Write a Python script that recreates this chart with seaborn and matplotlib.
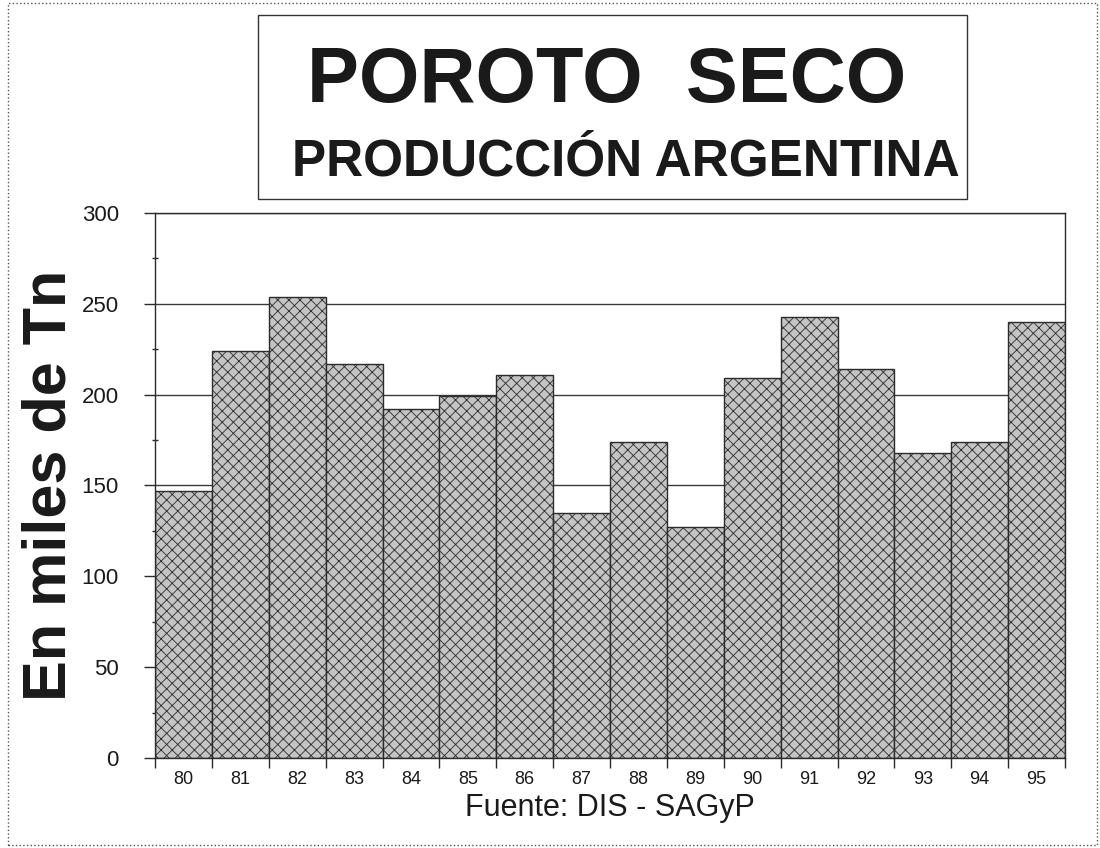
import matplotlib
matplotlib.use("Agg")
import matplotlib.pyplot as plt
import numpy as np
import pandas as pd
import seaborn as sns
from matplotlib.patches import Rectangle
from matplotlib.ticker import MultipleLocator, FixedLocator, NullFormatter

# Producción anual de poroto seco (miles de toneladas)
years = ["80", "81", "82", "83", "84", "85", "86", "87",
         "88", "89", "90", "91", "92", "93", "94", "95"]
production = [147, 224, 254, 217, 192, 199, 211, 135,
              174, 127, 209, 243, 214, 168, 174, 240]

y_ticks = [0, 50, 100, 150, 200, 250, 300]

title_main = "POROTO  SECO"
title_sub = "PRODUCCIÓN ARGENTINA"
y_label = "En miles de Tn"
x_label = "Fuente: DIS - SAGyP"

sns.set_theme(style="white")
plt.rcParams["font.family"] = ["Liberation Sans", "DejaVu Sans"]
plt.rcParams["hatch.linewidth"] = 0.6

W, H = 1100, 848
fig = plt.figure(figsize=(W / 100, H / 100), dpi=100)
fig.patch.set_facecolor("white")

# plot area in pixel coordinates
left, right, top, bottom = 155, 1065, 213, 758
ax = fig.add_axes([left / W, 1 - bottom / H, (right - left) / W, (bottom - top) / H])

df = pd.DataFrame({"year": years, "production": production})
sns.barplot(data=df, x="year", y="production", color="#c4c4c4", saturation=1,
            width=1.0, edgecolor="#2b2b2b", linewidth=1.0, ax=ax, zorder=2)
for p in ax.patches:
    p.set_hatch("xxx")

ax.set_xlim(-0.5, len(years) - 0.5)
ax.set_ylim(0, 300)

# grid and frame
ax.set_axisbelow(True)
ax.yaxis.grid(True, color="#3a3a3a", linewidth=1.0, zorder=0)
ax.xaxis.grid(False)
for s in ax.spines.values():
    s.set_visible(True)
    s.set_color("#2b2b2b")
    s.set_linewidth(1.0)

# y axis ticks
ax.yaxis.set_major_locator(FixedLocator(y_ticks))
ax.yaxis.set_minor_locator(MultipleLocator(25))
ax.tick_params(axis="y", which="major", left=True, direction="out", length=8,
               width=1, color="#2b2b2b", labelsize=16, pad=18, labelcolor="#1a1a1a")
ax.tick_params(axis="y", which="minor", left=True, direction="inout", length=5,
               width=1, color="#2b2b2b")

# x axis: labels centred on bars, tick marks on bar boundaries
ax.tick_params(axis="x", which="major", bottom=True, length=0, labelsize=13,
               pad=9, labelcolor="#1a1a1a")
ax.xaxis.set_minor_locator(FixedLocator(np.arange(-0.5, len(years), 1.0)))
ax.xaxis.set_minor_formatter(NullFormatter())
ax.tick_params(axis="x", which="minor", bottom=True, direction="out", length=7,
               width=1, color="#2b2b2b")

ax.set_ylabel("")
ax.set_xlabel(x_label, fontsize=22, color="#1a1a1a", labelpad=4)

# y label placed on the figure
fig.text(50 / W, 1 - 485 / H, y_label, rotation=90, fontsize=44,
         fontweight="bold", ha="center", va="center", color="#1a1a1a")

# title box
fig.patches.append(Rectangle((258 / W, 1 - 199 / H), (967 - 258) / W, (199 - 15) / H,
                             transform=fig.transFigure, fill=False,
                             edgecolor="#333333", linewidth=1.0))
fig.text(607 / W, 1 - 102 / H, title_main, fontsize=56, fontweight="bold",
         ha="center", va="baseline", color="#1a1a1a")
fig.text(626 / W, 1 - 175 / H, title_sub, fontsize=37, fontweight="bold",
         ha="center", va="baseline", color="#1a1a1a")

# outer frame
fig.patches.append(Rectangle((8 / W, 1 - 845 / H), (1097 - 8) / W, (845 - 3) / H,
                             transform=fig.transFigure, fill=False,
                             edgecolor="#555555", linewidth=1.0, linestyle=":"))

fig.savefig("out.png", dpi=100)
